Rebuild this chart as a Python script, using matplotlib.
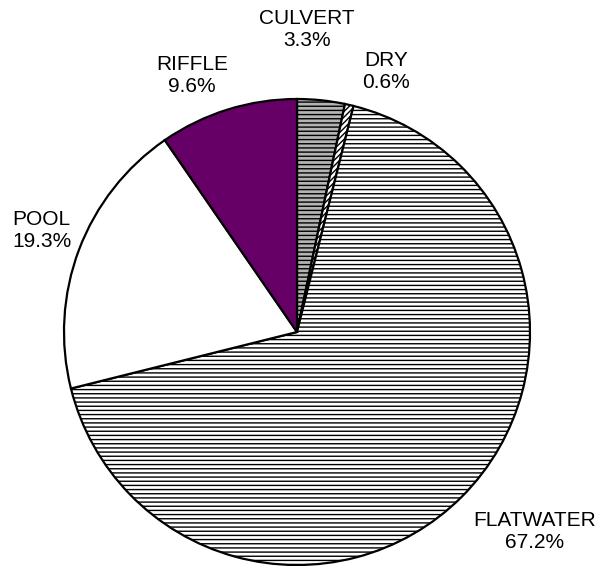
import matplotlib
matplotlib.use("Agg")
import numpy as np
import matplotlib.pyplot as plt

# habitat composition
categories = ['CULVERT', 'DRY', 'FLATWATER', 'POOL', 'RIFFLE']
percents = [3.3, 0.6, 67.2, 19.3, 9.6]

colors = ['#b4b4b4', 'white', 'white', 'white', '#660066']
hatches = ['----', '//////', '----', '', '']
# label distance from centre, in radius units
label_dist = [1.30, 1.18, 1.33, 1.18, 1.19]
label_shift = [4, -6, 5, -1, 5]  # extra angle, degrees


def main():
    plt.rcParams['font.family'] = ['Liberation Sans', 'DejaVu Sans']
    plt.rcParams['hatch.linewidth'] = 1.0

    fig = plt.figure(figsize=(5.99, 5.66), dpi=100)
    ax = fig.add_axes([0, 0, 1, 1])

    cx, cy, r = 297, 566 - 332, 233
    wedges, _ = ax.pie(percents, colors=colors, startangle=90,
                       counterclock=False, center=(cx, cy), radius=r,
                       wedgeprops=dict(edgecolor='black', linewidth=1.6))
    for w, h in zip(wedges, hatches):
        w.set_hatch(h)

    for w, name, p, d, s in zip(wedges, categories, percents,
                                label_dist, label_shift):
        ang = np.deg2rad((w.theta1 + w.theta2) / 2 + s)
        x = cx + d * r * np.cos(ang)
        y = cy + d * r * np.sin(ang)
        ax.text(x, y, f"{name}\n{p:.1f}%", ha='center', va='center',
                fontsize=15, linespacing=1.2)

    ax.set_xlim(0, 599)
    ax.set_ylim(0, 566)
    ax.set_aspect('equal')
    ax.axis('off')

    fig.savefig("out.png", dpi=100)


if __name__ == "__main__":
    main()
